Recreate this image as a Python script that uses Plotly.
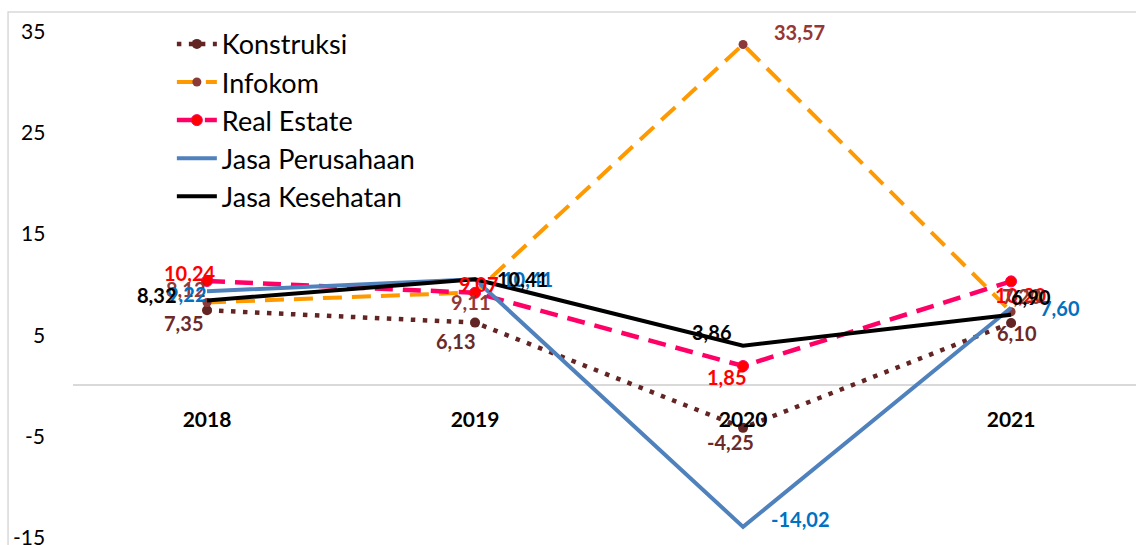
import plotly.graph_objects as go

# ---------------- data ----------------
years = [2018, 2019, 2020, 2021]
year_labels = ["2018", "2019", "2020", "2021"]

konstruksi = [7.35, 6.13, -4.25, 6.10]
infokom = [8.12, 9.11, 33.57, 7.20]
real_estate = [10.24, 9.07, 1.85, 10.20]
jasa_perusahaan = [9.22, 10.41, -14.02, 7.60]
jasa_kesehatan = [8.32, 10.41, 3.86, 6.90]

y_ticks = [-15, -5, 5, 15, 25, 35]

# ---------------- styles ----------------
FONT = "Lato"
series = [
    dict(name="Konstruksi", y=konstruksi, color="#632523", dash="4.5px,7.5px", width=4.5,
         marker=dict(size=10, color="#632523"), label_color="#6B2A2A",
         shifts=[(-24, -13), (-20, -18), (-13, -14), (6, -10)]),
    dict(name="Infokom", y=infokom, color="#FF9900", dash="19px,10px", width=4,
         marker=dict(size=9, color="#8B3A3A"), label_color="#953735",
         shifts=[(-22, 13), (-5, -10), (56, 12), (11, 16)]),
    dict(name="Real Estate", y=real_estate, color="#FF0066", dash="18px,10px", width=4.5,
         marker=dict(size=11, color="#FF0000", line=dict(color="#FF0066", width=1)), label_color="#FF0000",
         shifts=[(-18, 8), (3, 9), (-17, -11), (9, -14)]),
    dict(name="Jasa Perusahaan", y=jasa_perusahaan, color="#4F81BD", dash="solid", width=4,
         marker=None, label_color="#0070C0",
         shifts=[(-21, -3), (52, 0), (57, 8), (49, 0)]),
    dict(name="Jasa Kesehatan", y=jasa_kesehatan, color="#000000", dash="solid", width=4,
         marker=None, label_color="#000000",
         shifts=[(-51, 5), (47, 0), (-32, 14), (20, 18)]),
]

fig = go.Figure()
annotations = []
label_order = [2, 0, 1, 3, 4]
for s in series:
    mode = "lines+markers" if s["marker"] else "lines"
    tr = dict(x=years, y=s["y"], name=s["name"], mode=mode,
              line=dict(color=s["color"], width=s["width"], dash=s["dash"]))
    if s["marker"]:
        tr["marker"] = dict(symbol="circle", **s["marker"])
    fig.add_trace(go.Scatter(**tr))

for idx in label_order:
    s = series[idx]
    for x, v, (dx, dy) in zip(years, s["y"], s["shifts"]):
        annotations.append(dict(
            x=x, y=v, xref="x", yref="y", showarrow=False,
            text=f"{v:.2f}".replace(".", ","),
            xshift=dx, yshift=dy,
            font=dict(family=FONT, size=20, color=s["label_color"], weight="bold"),
        ))

# y-axis tick labels (drawn as annotations so the bottom one is not dropped at the edge)
for t in y_ticks:
    annotations.append(dict(
        x=0, y=t, xref="paper", yref="y", xanchor="right", yanchor="middle",
        xshift=-26, showarrow=False, text=str(t),
        font=dict(family=FONT, size=21, color="#000000"),
    ))

fig.update_layout(
    width=1136, height=545, autosize=False,
    margin=dict(l=73, r=0, t=30, b=8),
    paper_bgcolor="white", plot_bgcolor="white",
    font=dict(family=FONT, color="#000000"),
    showlegend=True,
    legend=dict(
        x=0.093, y=1.02, xanchor="left", yanchor="top",
        font=dict(family=FONT, size=27, color="#000000"),
        bgcolor="rgba(0,0,0,0)", tracegroupgap=0, itemwidth=40,
    ),
    annotations=annotations,
    shapes=[dict(type="rect", xref="paper", yref="paper",
                 x0=-0.0611, x1=1.02, y0=-0.1, y1=1.0355,
                 line=dict(color="#D9D9D9", width=1.5), fillcolor="rgba(0,0,0,0)", layer="below")],
)

fig.update_xaxes(
    range=[2017.5, 2021.466], tickvals=years, ticktext=year_labels,
    anchor="free", position=0.3, showline=False, showgrid=False, zeroline=False,
    ticks="", ticklabelstandoff=20,
    tickfont=dict(family=FONT, size=21, color="#000000", weight="bold"),
)
fig.update_yaxes(
    range=[-15.02, 35.0], tickvals=y_ticks, showticklabels=False,
    showgrid=False, showline=False, zeroline=True, zerolinecolor="#D9D9D9", zerolinewidth=2,
    ticks="",
)

fig.write_html("out.html", config={"displayModeBar": False},
               post_script="document.body.style.margin='0';")
